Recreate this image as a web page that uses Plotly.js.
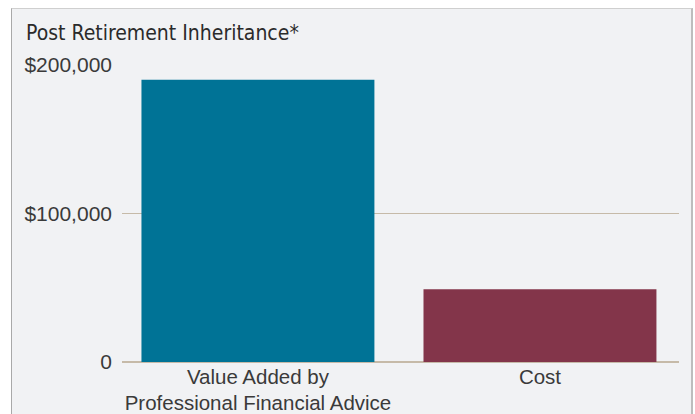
<!DOCTYPE html>
<html>
<head>
<meta charset="utf-8">
<script src="https://cdn.plot.ly/plotly-3.0.1.min.js"></script>
<style>
  html, body { margin: 0; padding: 0; background: #ffffff; width: 695px; height: 414px; overflow: hidden; }
  #frame { position: absolute; left: 11px; top: 8px; width: 679px; height: 420px;
           background: #f1f2f4; border-left: 1px solid #a9a9a9; border-top: 1px solid #cfcfcf; border-right: 2px solid #bdbdbd; }
  #chart { position: absolute; left: 0; top: 0; width: 695px; height: 414px; }
</style>
</head>
<body>
<div id="frame"></div>
<div id="chart"></div>
<script>
const categories = ["Value Added by<br>Professional Financial Advice", "Cost"];
const values = [190000, 49000];
const barColors = ["#007396", "#83354a"];
const yTickVals = [0, 100000, 200000];
const yTickText = ["0", "$100,000", "$200,000"];
const titleText = "Post Retirement Inheritance*";

const trace = {
  type: "bar",
  x: [0, 1],
  y: values,
  width: 0.826,
  marker: { color: barColors, line: { width: 0 } },
  hoverinfo: "none"
};

const layout = {
  width: 695,
  height: 414,
  margin: { l: 122, r: 16, t: 65, b: 52 },
  paper_bgcolor: "rgba(0,0,0,0)",
  plot_bgcolor: "rgba(0,0,0,0)",
  showlegend: false,
  font: { family: "Liberation Sans, Arial, sans-serif", color: "#3a3a3a", size: 20 },
  title: {
    text: titleText,
    x: 26 / 695, xanchor: "left", xref: "container",
    y: 1 - 40 / 414, yanchor: "bottom", yref: "container",
    font: { family: "DejaVu Sans Condensed, sans-serif", size: 21, color: "#2b2b2b" }
  },
  xaxis: {
    range: [-0.482, 1.493],
    tickmode: "array",
    tickvals: [0, 1],
    ticktext: categories,
    showgrid: false,
    zeroline: false,
    showline: false,
    ticks: "",
    tickfont: { size: 20.5, color: "#3a3a3a" },
    fixedrange: true
  },
  yaxis: {
    range: [0, 200000],
    tickmode: "array",
    tickvals: yTickVals,
    ticktext: yTickText,
    showgrid: true,
    gridcolor: "#c6baa8",
    gridwidth: 1.5,
    zeroline: true,
    zerolinecolor: "#c6baa8",
    zerolinewidth: 1.5,
    showline: false,
    ticks: "",
    ticklabelstandoff: 9,
    tickfont: { size: 21, color: "#3a3a3a" },
    fixedrange: true
  }
};

Plotly.newPlot("chart", [trace], layout, { displayModeBar: false, staticPlot: true });
</script>
</body>
</html>
